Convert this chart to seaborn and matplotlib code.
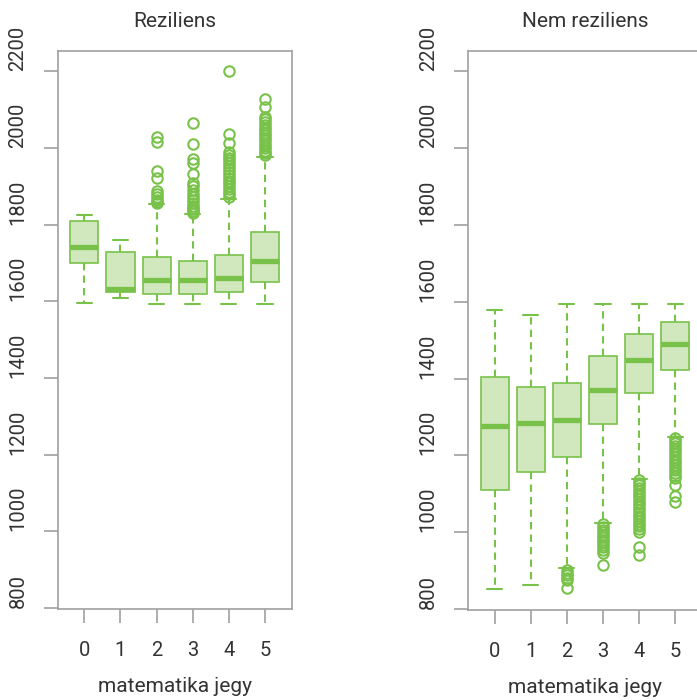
import matplotlib
matplotlib.use("Agg")
import matplotlib.pyplot as plt
import seaborn as sns

# ---- data ----
grades = ["0", "1", "2", "3", "4", "5"]

rez_whislo = [1597, 1609, 1594, 1594, 1594, 1594]
rez_q1     = [1701, 1624, 1620, 1620, 1624, 1651]
rez_med    = [1741, 1632, 1656, 1656, 1662, 1706]
rez_q3     = [1810, 1729, 1717, 1705, 1721, 1782]
rez_whishi = [1826, 1760, 1855, 1829, 1867, 1976]
rez_fliers = [
    [],
    [],
    [2030, 2015, 1940, 1922, 1887, 1880, 1872, 1865, 1860, 1857],
    [2066, 2011, 1972, 1962, 1933, 1908, 1900, 1890, 1880, 1872, 1865, 1858,
     1850, 1845, 1840, 1835, 1831],
    [2200, 2036, 2013, 1990, 1982, 1975, 1968, 1960, 1953, 1946, 1938, 1930,
     1922, 1915, 1908, 1900, 1893, 1886, 1879, 1872],
    [2128, 2108, 2082, 2075, 2068, 2060, 2053, 2046, 2040, 2033, 2026, 2020,
     2013, 2006, 2000, 1993, 1987, 1981],
]

nrez_whislo = [851, 863, 906, 1023, 1137, 1247]
nrez_q1     = [1110, 1156, 1195, 1281, 1362, 1422]
nrez_med    = [1276, 1284, 1293, 1369, 1447, 1489]
nrez_q3     = [1403, 1377, 1388, 1458, 1516, 1546]
nrez_whishi = [1579, 1566, 1594, 1594, 1594, 1594]
nrez_fliers = [
    [],
    [],
    [900, 893, 887, 880, 875, 855],
    [1020, 1013, 1006, 1000, 993, 986, 980, 973, 966, 960, 953, 946, 913],
    [1135, 1128, 1122, 1115, 1108, 1100, 1093, 1086, 1079, 1072, 1065, 1058,
     1050, 1043, 1036, 1029, 1022, 1015, 1008, 1000, 961, 940],
    [1245, 1238, 1231, 1224, 1217, 1210, 1203, 1196, 1189, 1182, 1175, 1168,
     1161, 1154, 1147, 1140, 1122, 1094, 1078],
]

titles = ["Reziliens", "Nem reziliens"]
xlabel = "matematika jegy"
yticks = [800, 1000, 1200, 1400, 1600, 1800, 2000, 2200]

# ---- style ----
sns.set_style("white")
plt.rcParams["font.family"] = ["Roboto", "DejaVu Sans"]

GREEN = "#79c24a"
FILL = "#d1e7bd"
GREY = "#a0a0a0"
TEXT = "#333333"

fig = plt.figure(figsize=(6.97, 7.0), dpi=100)
ax1 = fig.add_axes([58 / 697, 90.7 / 700, 233.7 / 697, 558.6 / 700])
ax2 = fig.add_axes([468.3 / 697, 90.0 / 700, 233.7 / 697, 559.3 / 700])


def stats_for(lo, q1, med, q3, hi, fl):
    out = []
    for i in range(len(grades)):
        out.append(dict(whislo=lo[i], q1=q1[i], med=med[i], q3=q3[i],
                        whishi=hi[i], fliers=fl[i], label=grades[i]))
    return out


panels = [
    (ax1, stats_for(rez_whislo, rez_q1, rez_med, rez_q3, rez_whishi, rez_fliers)),
    (ax2, stats_for(nrez_whislo, nrez_q1, nrez_med, nrez_q3, nrez_whishi, nrez_fliers)),
]

for (ax, st), title in zip(panels, titles):
    ax.bxp(st, positions=range(len(grades)), widths=0.78, capwidths=0.42,
           patch_artist=True, showfliers=True,
           boxprops=dict(facecolor=FILL, edgecolor=GREEN, linewidth=1.2),
           medianprops=dict(color=GREEN, linewidth=3.8, solid_capstyle="butt"),
           whiskerprops=dict(color=GREEN, linewidth=1.5, linestyle=(0, (3.5, 2.5))),
           capprops=dict(color=GREEN, linewidth=1.5),
           flierprops=dict(marker="o", markerfacecolor="none",
                           markeredgecolor=GREEN, markersize=7.5,
                           markeredgewidth=1.5, linestyle="none"))
    ax.set_xlim(-0.73, 5.74)
    ax.set_ylim(797, 2254)
    ax.set_yticks(yticks)
    ax.set_yticklabels([str(v) for v in yticks], rotation=90, va="bottom")
    ax.set_xticks(range(len(grades)))
    ax.set_xticklabels(grades)
    for s in ax.spines.values():
        s.set_color(GREY)
        s.set_linewidth(1.2)
    ax.tick_params(axis="both", which="both", length=10, width=1.2,
                   color=GREY, labelcolor=TEXT, labelsize=14.5, pad=12,
                   left=True, bottom=True, direction="out")
    ax.tick_params(axis="x", pad=13)
    ax.set_title(title, fontsize=15, color=TEXT, pad=17)
    ax.set_xlabel(xlabel, fontsize=15, color=TEXT, labelpad=12)
    ax.grid(False)

fig.savefig("out.png", dpi=100)
